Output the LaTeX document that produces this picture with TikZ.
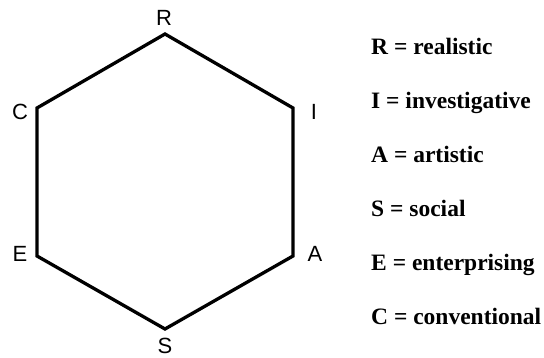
\documentclass[tikz,border=0pt]{standalone}
\usepackage{fontspec}
\setmainfont{Liberation Serif}
\setsansfont{Liberation Sans}
\usetikzlibrary{positioning}

\begin{document}
\begin{tikzpicture}[x=1pt, y=-1pt,
        edge/.style={draw, line width=3.3pt},
        corner/.style={font=\fontsize{22}{24}\selectfont\sffamily, inner sep=0pt},
        legend/.style={anchor=base west, inner sep=0pt,
                       font=\fontsize{23.5}{26}\selectfont\bfseries}
      ]
        \useasboundingbox (0,0) rectangle (544,358);
        % hexagon corners
        \coordinate (R) at (165,34);
        \coordinate (I) at (293,108);
        \coordinate (A) at (293,256);
        \coordinate (S) at (165,329);
        \coordinate (E) at (37,256);
        \coordinate (C) at (37,108);
        \draw[edge] (R) -- (I) -- (A) -- (S) -- (E) -- (C) -- cycle;
        % corner letters
        \node[corner] (lR) at (164,18)  {R};
        \node[corner] (lI) at (314,112) {I};
        \node[corner] (lA) at (315,254) {A};
        \node[corner] (lS) at (165,346) {S};
        \node[corner] (lE) at (20,254)  {E};
        \node[corner] (lC) at (20,112)  {C};
        % legend
        \foreach \k/\t [count=\n from 0] in {R/realistic, I/investigative, A/artistic,
                                              S/social, E/enterprising, C/conventional}
          \node[legend] (key\k) at (371,55+54*\n) {\k\ = \t};
      \end{tikzpicture}
\end{document}
